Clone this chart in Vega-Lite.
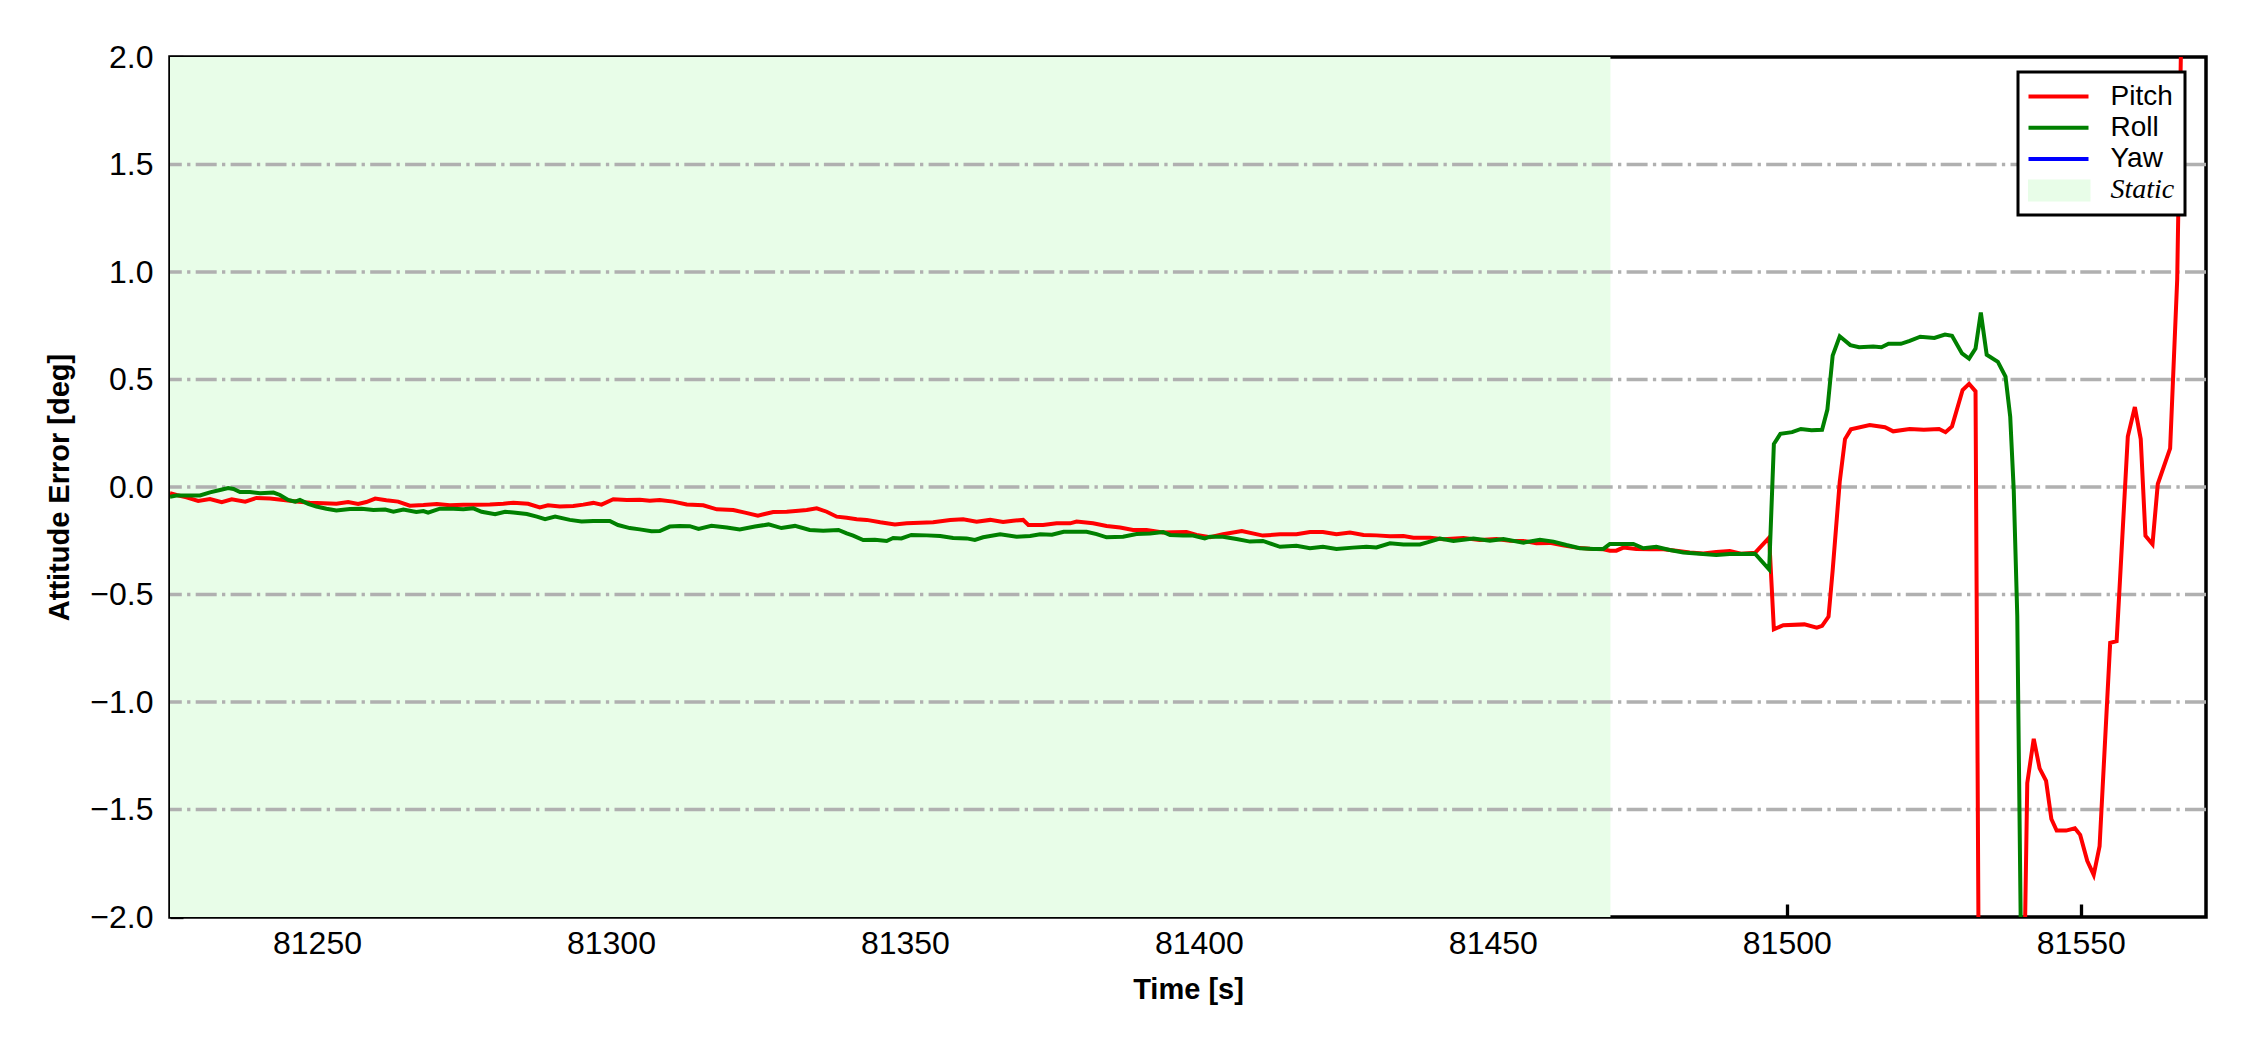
{
  "$schema": "https://vega.github.io/schema/vega-lite/v6.json",
  "width": 2036,
  "height": 860,
  "autosize": {"type": "none"},
  "padding": {"left": 170, "top": 57, "right": 44, "bottom": 133},
  "background": "white",
  "config": {
    "font": "Liberation Sans",
    "view": {"stroke": "black", "strokeWidth": 3.5},
    "axis": {
      "zindex": 1,
      "grid": false,
      "domain": false,
      "ticks": true,
      "tickColor": "black",
      "tickWidth": 3.3,
      "tickSize": -13,
      "labelFont": "Liberation Sans",
      "labelFontSize": 32,
      "labelColor": "black",
      "titleFont": "Liberation Sans",
      "titleFontSize": 29,
      "titleFontWeight": "bold",
      "titleColor": "black"
    }
  },
  "datasets": {
    "static": [{"start": 81225, "end": 81470, "s": "Static"}],
    "grid": [{"g": -1.5}, {"g": -1.0}, {"g": -0.5}, {"g": 0.0}, {"g": 0.5}, {"g": 1.0}, {"g": 1.5}],
    "lines": [
      {"s":"Pitch","t":81225,"v":-0.029},{"s":"Pitch","t":81226.1,"v":-0.037},{"s":"Pitch","t":81227.8,"v":-0.048},{"s":"Pitch","t":81229.8,"v":-0.065},{"s":"Pitch","t":81231.8,"v":-0.056},{"s":"Pitch","t":81233.8,"v":-0.071},{"s":"Pitch","t":81235.5,"v":-0.057},{"s":"Pitch","t":81237.8,"v":-0.068},{"s":"Pitch","t":81239.7,"v":-0.051},{"s":"Pitch","t":81242,"v":-0.053},{"s":"Pitch","t":81244.3,"v":-0.06},{"s":"Pitch","t":81246.5,"v":-0.067},{"s":"Pitch","t":81248.8,"v":-0.073},{"s":"Pitch","t":81251.1,"v":-0.076},{"s":"Pitch","t":81253.3,"v":-0.078},{"s":"Pitch","t":81255.3,"v":-0.07},{"s":"Pitch","t":81257,"v":-0.079},{"s":"Pitch","t":81258.4,"v":-0.07},{"s":"Pitch","t":81259.9,"v":-0.054},{"s":"Pitch","t":81261.8,"v":-0.062},{"s":"Pitch","t":81263.8,"v":-0.068},{"s":"Pitch","t":81265.8,"v":-0.087},{"s":"Pitch","t":81268.1,"v":-0.084},{"s":"Pitch","t":81270.4,"v":-0.079},{"s":"Pitch","t":81272.6,"v":-0.085},{"s":"Pitch","t":81274.9,"v":-0.082},{"s":"Pitch","t":81277.2,"v":-0.082},{"s":"Pitch","t":81279.4,"v":-0.081},{"s":"Pitch","t":81281.7,"v":-0.078},{"s":"Pitch","t":81283.4,"v":-0.073},{"s":"Pitch","t":81285.9,"v":-0.078},{"s":"Pitch","t":81287.9,"v":-0.095},{"s":"Pitch","t":81289.3,"v":-0.085},{"s":"Pitch","t":81291.3,"v":-0.091},{"s":"Pitch","t":81293.6,"v":-0.088},{"s":"Pitch","t":81295.3,"v":-0.082},{"s":"Pitch","t":81297,"v":-0.074},{"s":"Pitch","t":81298.4,"v":-0.082},{"s":"Pitch","t":81300.4,"v":-0.057},{"s":"Pitch","t":81302.7,"v":-0.06},{"s":"Pitch","t":81304.9,"v":-0.059},{"s":"Pitch","t":81306.6,"v":-0.064},{"s":"Pitch","t":81308.3,"v":-0.06},{"s":"Pitch","t":81310.6,"v":-0.068},{"s":"Pitch","t":81312.9,"v":-0.081},{"s":"Pitch","t":81315.7,"v":-0.085},{"s":"Pitch","t":81318,"v":-0.104},{"s":"Pitch","t":81320.8,"v":-0.107},{"s":"Pitch","t":81322.8,"v":-0.119},{"s":"Pitch","t":81325,"v":-0.133},{"s":"Pitch","t":81327.6,"v":-0.116},{"s":"Pitch","t":81329.9,"v":-0.115},{"s":"Pitch","t":81331.9,"v":-0.11},{"s":"Pitch","t":81333.3,"v":-0.107},{"s":"Pitch","t":81335,"v":-0.099},{"s":"Pitch","t":81336.7,"v":-0.115},{"s":"Pitch","t":81338.4,"v":-0.138},{"s":"Pitch","t":81340.1,"v":-0.143},{"s":"Pitch","t":81341.8,"v":-0.15},{"s":"Pitch","t":81343.5,"v":-0.153},{"s":"Pitch","t":81345.8,"v":-0.164},{"s":"Pitch","t":81348.3,"v":-0.174},{"s":"Pitch","t":81350.3,"v":-0.169},{"s":"Pitch","t":81352.6,"v":-0.166},{"s":"Pitch","t":81354.8,"v":-0.164},{"s":"Pitch","t":81357.7,"v":-0.153},{"s":"Pitch","t":81359.9,"v":-0.15},{"s":"Pitch","t":81362.2,"v":-0.161},{"s":"Pitch","t":81364.5,"v":-0.153},{"s":"Pitch","t":81366.7,"v":-0.163},{"s":"Pitch","t":81368.4,"v":-0.157},{"s":"Pitch","t":81370.1,"v":-0.153},{"s":"Pitch","t":81371,"v":-0.177},{"s":"Pitch","t":81373.5,"v":-0.177},{"s":"Pitch","t":81375.8,"v":-0.169},{"s":"Pitch","t":81378.1,"v":-0.169},{"s":"Pitch","t":81379.2,"v":-0.161},{"s":"Pitch","t":81382,"v":-0.169},{"s":"Pitch","t":81384.3,"v":-0.181},{"s":"Pitch","t":81386.6,"v":-0.188},{"s":"Pitch","t":81388.8,"v":-0.2},{"s":"Pitch","t":81391.1,"v":-0.2},{"s":"Pitch","t":81393.9,"v":-0.212},{"s":"Pitch","t":81395.6,"v":-0.211},{"s":"Pitch","t":81397.9,"v":-0.209},{"s":"Pitch","t":81399.6,"v":-0.223},{"s":"Pitch","t":81401.9,"v":-0.234},{"s":"Pitch","t":81404.1,"v":-0.22},{"s":"Pitch","t":81407.3,"v":-0.205},{"s":"Pitch","t":81410.9,"v":-0.226},{"s":"Pitch","t":81413.8,"v":-0.22},{"s":"Pitch","t":81416.6,"v":-0.22},{"s":"Pitch","t":81418.9,"v":-0.209},{"s":"Pitch","t":81421.1,"v":-0.209},{"s":"Pitch","t":81423.4,"v":-0.22},{"s":"Pitch","t":81425.7,"v":-0.212},{"s":"Pitch","t":81428,"v":-0.223},{"s":"Pitch","t":81430.2,"v":-0.225},{"s":"Pitch","t":81432.5,"v":-0.229},{"s":"Pitch","t":81434.8,"v":-0.228},{"s":"Pitch","t":81436.5,"v":-0.236},{"s":"Pitch","t":81439.3,"v":-0.236},{"s":"Pitch","t":81441.6,"v":-0.243},{"s":"Pitch","t":81445,"v":-0.237},{"s":"Pitch","t":81447.8,"v":-0.246},{"s":"Pitch","t":81450.6,"v":-0.242},{"s":"Pitch","t":81452.9,"v":-0.25},{"s":"Pitch","t":81455.2,"v":-0.251},{"s":"Pitch","t":81457.4,"v":-0.262},{"s":"Pitch","t":81459.7,"v":-0.26},{"s":"Pitch","t":81461.9,"v":-0.271},{"s":"Pitch","t":81464.2,"v":-0.282},{"s":"Pitch","t":81466.5,"v":-0.287},{"s":"Pitch","t":81468.8,"v":-0.29},{"s":"Pitch","t":81469.9,"v":-0.296},{"s":"Pitch","t":81471,"v":-0.296},{"s":"Pitch","t":81472.2,"v":-0.282},{"s":"Pitch","t":81474.4,"v":-0.288},{"s":"Pitch","t":81476.7,"v":-0.29},{"s":"Pitch","t":81479,"v":-0.29},{"s":"Pitch","t":81481.2,"v":-0.296},{"s":"Pitch","t":81483.5,"v":-0.305},{"s":"Pitch","t":81485.8,"v":-0.309},{"s":"Pitch","t":81488,"v":-0.302},{"s":"Pitch","t":81490.3,"v":-0.298},{"s":"Pitch","t":81492.2,"v":-0.31},{"s":"Pitch","t":81494.6,"v":-0.306},{"s":"Pitch","t":81497,"v":-0.235},{"s":"Pitch","t":81497.8,"v":-0.662},{"s":"Pitch","t":81499.4,"v":-0.643},{"s":"Pitch","t":81503,"v":-0.639},{"s":"Pitch","t":81505.1,"v":-0.654},{"s":"Pitch","t":81506,"v":-0.646},{"s":"Pitch","t":81507.1,"v":-0.603},{"s":"Pitch","t":81507.8,"v":-0.388},{"s":"Pitch","t":81509,"v":0.024},{"s":"Pitch","t":81509.9,"v":0.223},{"s":"Pitch","t":81510.9,"v":0.268},{"s":"Pitch","t":81514.1,"v":0.288},{"s":"Pitch","t":81516.7,"v":0.278},{"s":"Pitch","t":81518.1,"v":0.259},{"s":"Pitch","t":81520.9,"v":0.27},{"s":"Pitch","t":81523.3,"v":0.266},{"s":"Pitch","t":81525.9,"v":0.27},{"s":"Pitch","t":81527,"v":0.255},{"s":"Pitch","t":81528.1,"v":0.282},{"s":"Pitch","t":81529.9,"v":0.451},{"s":"Pitch","t":81531,"v":0.48},{"s":"Pitch","t":81532.1,"v":0.445},{"s":"Pitch","t":81532.65,"v":-2.3},{"s":"Pitch","t":81536,"v":-4},{"s":"Pitch","t":81540.37,"v":-2.3},{"s":"Pitch","t":81540.9,"v":-1.377},{"s":"Pitch","t":81542,"v":-1.171},{"s":"Pitch","t":81543,"v":-1.309},{"s":"Pitch","t":81544.1,"v":-1.367},{"s":"Pitch","t":81545,"v":-1.544},{"s":"Pitch","t":81545.9,"v":-1.598},{"s":"Pitch","t":81547.5,"v":-1.598},{"s":"Pitch","t":81549,"v":-1.587},{"s":"Pitch","t":81549.9,"v":-1.618},{"s":"Pitch","t":81551.1,"v":-1.739},{"s":"Pitch","t":81552.2,"v":-1.804},{"s":"Pitch","t":81553.2,"v":-1.671},{"s":"Pitch","t":81555,"v":-0.725},{"s":"Pitch","t":81556.1,"v":-0.717},{"s":"Pitch","t":81556.8,"v":-0.368},{"s":"Pitch","t":81558,"v":0.235},{"s":"Pitch","t":81559.2,"v":0.372},{"s":"Pitch","t":81560.2,"v":0.223},{"s":"Pitch","t":81561,"v":-0.227},{"s":"Pitch","t":81562.2,"v":-0.266},{"s":"Pitch","t":81563.1,"v":0.014},{"s":"Pitch","t":81565.2,"v":0.18},{"s":"Pitch","t":81566.4,"v":0.964},{"s":"Pitch","t":81567.2,"v":2.3},{"s":"Pitch","t":81571.3,"v":3.0},
      {"s":"Roll","t":81225,"v":-0.045},{"s":"Roll","t":81226.1,"v":-0.04},{"s":"Roll","t":81228.4,"v":-0.039},{"s":"Roll","t":81230.1,"v":-0.039},{"s":"Roll","t":81231.8,"v":-0.025},{"s":"Roll","t":81233.5,"v":-0.014},{"s":"Roll","t":81234.9,"v":-0.005},{"s":"Roll","t":81235.8,"v":-0.009},{"s":"Roll","t":81236.9,"v":-0.023},{"s":"Roll","t":81238.6,"v":-0.023},{"s":"Roll","t":81240.3,"v":-0.029},{"s":"Roll","t":81242.6,"v":-0.026},{"s":"Roll","t":81243.7,"v":-0.037},{"s":"Roll","t":81245.1,"v":-0.06},{"s":"Roll","t":81246.3,"v":-0.068},{"s":"Roll","t":81247.1,"v":-0.06},{"s":"Roll","t":81248.5,"v":-0.078},{"s":"Roll","t":81249.9,"v":-0.091},{"s":"Roll","t":81251.6,"v":-0.101},{"s":"Roll","t":81253.3,"v":-0.109},{"s":"Roll","t":81255.6,"v":-0.102},{"s":"Roll","t":81257.6,"v":-0.101},{"s":"Roll","t":81259.6,"v":-0.107},{"s":"Roll","t":81261.6,"v":-0.105},{"s":"Roll","t":81263,"v":-0.115},{"s":"Roll","t":81264.7,"v":-0.105},{"s":"Roll","t":81266.9,"v":-0.116},{"s":"Roll","t":81268.1,"v":-0.112},{"s":"Roll","t":81268.9,"v":-0.119},{"s":"Roll","t":81270.9,"v":-0.101},{"s":"Roll","t":81273.2,"v":-0.101},{"s":"Roll","t":81274.9,"v":-0.104},{"s":"Roll","t":81276.6,"v":-0.099},{"s":"Roll","t":81278,"v":-0.115},{"s":"Roll","t":81280.3,"v":-0.127},{"s":"Roll","t":81282,"v":-0.115},{"s":"Roll","t":81283.4,"v":-0.119},{"s":"Roll","t":81285.7,"v":-0.126},{"s":"Roll","t":81287.4,"v":-0.138},{"s":"Roll","t":81288.8,"v":-0.15},{"s":"Roll","t":81290.5,"v":-0.138},{"s":"Roll","t":81293,"v":-0.153},{"s":"Roll","t":81295,"v":-0.16},{"s":"Roll","t":81297,"v":-0.158},{"s":"Roll","t":81299.8,"v":-0.158},{"s":"Roll","t":81301.2,"v":-0.177},{"s":"Roll","t":81303.2,"v":-0.191},{"s":"Roll","t":81304.9,"v":-0.197},{"s":"Roll","t":81306.9,"v":-0.206},{"s":"Roll","t":81308.3,"v":-0.205},{"s":"Roll","t":81310,"v":-0.184},{"s":"Roll","t":81311.7,"v":-0.181},{"s":"Roll","t":81313.4,"v":-0.182},{"s":"Roll","t":81314.9,"v":-0.195},{"s":"Roll","t":81317.1,"v":-0.18},{"s":"Roll","t":81319.7,"v":-0.188},{"s":"Roll","t":81321.9,"v":-0.197},{"s":"Roll","t":81324.5,"v":-0.184},{"s":"Roll","t":81326.8,"v":-0.174},{"s":"Roll","t":81329,"v":-0.191},{"s":"Roll","t":81331.3,"v":-0.181},{"s":"Roll","t":81333.8,"v":-0.2},{"s":"Roll","t":81336.1,"v":-0.203},{"s":"Roll","t":81338.7,"v":-0.2},{"s":"Roll","t":81340.1,"v":-0.216},{"s":"Roll","t":81341.2,"v":-0.226},{"s":"Roll","t":81342.9,"v":-0.247},{"s":"Roll","t":81344.9,"v":-0.245},{"s":"Roll","t":81346.9,"v":-0.251},{"s":"Roll","t":81348,"v":-0.237},{"s":"Roll","t":81349.4,"v":-0.239},{"s":"Roll","t":81351.1,"v":-0.223},{"s":"Roll","t":81353.7,"v":-0.225},{"s":"Roll","t":81356,"v":-0.228},{"s":"Roll","t":81358.2,"v":-0.237},{"s":"Roll","t":81360.5,"v":-0.239},{"s":"Roll","t":81361.9,"v":-0.246},{"s":"Roll","t":81363.3,"v":-0.234},{"s":"Roll","t":81366.2,"v":-0.22},{"s":"Roll","t":81369,"v":-0.231},{"s":"Roll","t":81371.3,"v":-0.228},{"s":"Roll","t":81373,"v":-0.22},{"s":"Roll","t":81375,"v":-0.222},{"s":"Roll","t":81377,"v":-0.208},{"s":"Roll","t":81378.6,"v":-0.208},{"s":"Roll","t":81380.9,"v":-0.208},{"s":"Roll","t":81382.6,"v":-0.219},{"s":"Roll","t":81384.3,"v":-0.234},{"s":"Roll","t":81387.1,"v":-0.231},{"s":"Roll","t":81389.4,"v":-0.219},{"s":"Roll","t":81391.7,"v":-0.216},{"s":"Roll","t":81393.9,"v":-0.209},{"s":"Roll","t":81395.1,"v":-0.223},{"s":"Roll","t":81397.3,"v":-0.226},{"s":"Roll","t":81399,"v":-0.226},{"s":"Roll","t":81401,"v":-0.239},{"s":"Roll","t":81401.9,"v":-0.231},{"s":"Roll","t":81404.1,"v":-0.231},{"s":"Roll","t":81406.4,"v":-0.242},{"s":"Roll","t":81408.7,"v":-0.254},{"s":"Roll","t":81410.9,"v":-0.251},{"s":"Roll","t":81413.8,"v":-0.278},{"s":"Roll","t":81416.6,"v":-0.273},{"s":"Roll","t":81418.9,"v":-0.285},{"s":"Roll","t":81421.1,"v":-0.278},{"s":"Roll","t":81423.4,"v":-0.288},{"s":"Roll","t":81426.2,"v":-0.282},{"s":"Roll","t":81428.5,"v":-0.278},{"s":"Roll","t":81430.2,"v":-0.281},{"s":"Roll","t":81432.5,"v":-0.262},{"s":"Roll","t":81434.8,"v":-0.267},{"s":"Roll","t":81437.6,"v":-0.267},{"s":"Roll","t":81439.3,"v":-0.254},{"s":"Roll","t":81441,"v":-0.24},{"s":"Roll","t":81443.3,"v":-0.251},{"s":"Roll","t":81446.7,"v":-0.24},{"s":"Roll","t":81449.5,"v":-0.25},{"s":"Roll","t":81451.8,"v":-0.242},{"s":"Roll","t":81455.2,"v":-0.259},{"s":"Roll","t":81458,"v":-0.245},{"s":"Roll","t":81460.3,"v":-0.254},{"s":"Roll","t":81462.5,"v":-0.27},{"s":"Roll","t":81464.8,"v":-0.285},{"s":"Roll","t":81467.1,"v":-0.288},{"s":"Roll","t":81468.8,"v":-0.288},{"s":"Roll","t":81469.9,"v":-0.265},{"s":"Roll","t":81472.2,"v":-0.265},{"s":"Roll","t":81473.9,"v":-0.265},{"s":"Roll","t":81475.6,"v":-0.285},{"s":"Roll","t":81477.8,"v":-0.278},{"s":"Roll","t":81480.1,"v":-0.293},{"s":"Roll","t":81482.4,"v":-0.305},{"s":"Roll","t":81484.6,"v":-0.309},{"s":"Roll","t":81488,"v":-0.316},{"s":"Roll","t":81490.3,"v":-0.312},{"s":"Roll","t":81494.6,"v":-0.31},{"s":"Roll","t":81497,"v":-0.384},{"s":"Roll","t":81497.8,"v":0.2},{"s":"Roll","t":81498.9,"v":0.247},{"s":"Roll","t":81500.9,"v":0.255},{"s":"Roll","t":81502.4,"v":0.27},{"s":"Roll","t":81504.2,"v":0.264},{"s":"Roll","t":81506,"v":0.266},{"s":"Roll","t":81506.9,"v":0.36},{"s":"Roll","t":81507.8,"v":0.611},{"s":"Roll","t":81509,"v":0.701},{"s":"Roll","t":81510.8,"v":0.66},{"s":"Roll","t":81512.3,"v":0.65},{"s":"Roll","t":81514.7,"v":0.654},{"s":"Roll","t":81516.1,"v":0.65},{"s":"Roll","t":81517.3,"v":0.666},{"s":"Roll","t":81519.4,"v":0.666},{"s":"Roll","t":81520.9,"v":0.68},{"s":"Roll","t":81522.7,"v":0.699},{"s":"Roll","t":81525.1,"v":0.693},{"s":"Roll","t":81526.9,"v":0.709},{"s":"Roll","t":81528.1,"v":0.703},{"s":"Roll","t":81529.8,"v":0.621},{"s":"Roll","t":81531,"v":0.597},{"s":"Roll","t":81532.1,"v":0.644},{"s":"Roll","t":81533,"v":0.811},{"s":"Roll","t":81534,"v":0.615},{"s":"Roll","t":81535.9,"v":0.582},{"s":"Roll","t":81537.2,"v":0.513},{"s":"Roll","t":81538,"v":0.327},{"s":"Roll","t":81538.6,"v":-0.016},{"s":"Roll","t":81539.2,"v":-0.6},{"s":"Roll","t":81539.9,"v":-2.3},{"s":"Roll","t":81545,"v":-4},{"s":"Roll","t":81571.3,"v":-4}
    ]
  },
  "encoding": {
    "x": {
      "type": "quantitative",
      "scale": {"domain": [81225, 81571.3], "nice": false, "zero": false},
      "axis": {
        "title": "Time [s]",
        "values": [81250, 81300, 81350, 81400, 81450, 81500, 81550],
        "format": "d",
        "labelPadding": 24,
        "titlePadding": 16
      }
    }
  },
  "layer": [
    {
      "data": {"name": "static"},
      "mark": {"type": "rect"},
      "encoding": {
        "x": {"field": "start", "type": "quantitative"},
        "x2": {"field": "end"},
        "color": {"field": "s", "type": "nominal"}
      }
    },
    {
      "data": {"name": "grid"},
      "mark": {"type": "rule", "color": "#b0b0b0", "strokeWidth": 3.3, "strokeDash": [21, 5.3, 3.3, 5.3]},
      "encoding": {
        "y": {"field": "g", "type": "quantitative"}
      }
    },
    {
      "data": {"name": "lines"},
      "mark": {"type": "line", "strokeWidth": 4, "clip": true},
      "encoding": {
        "x": {"field": "t", "type": "quantitative"},
        "y": {
          "field": "v",
          "type": "quantitative",
          "scale": {"domain": [-2, 2], "nice": false, "zero": false},
          "axis": {
            "title": "Attitude Error [deg]",
            "values": [-2, -1.5, -1, -0.5, 0, 0.5, 1, 1.5, 2],
            "format": ".1f",
            "labelPadding": 30,
            "titlePadding": 15
          }
        },
        "color": {
          "field": "s",
          "type": "nominal",
          "scale": {
            "domain": ["Pitch", "Roll", "Yaw", "Static"],
            "range": ["#ff0000", "#008000", "#0000ff", "#e8fde8"]
          },
          "legend": {
            "title": null,
            "orient": "none",
            "legendX": 1848,
            "legendY": 15,
            "padding": 10,
            "fillColor": "white",
            "strokeColor": "black",
            "cornerRadius": 0,
            "symbolSize": 3600,
            "symbolStrokeWidth": 4,
            "symbolOffset": -1.5,
            "labelOffset": 20,
            "labelFont": "Liberation Sans",
            "labelFontSize": 28,
            "labelColor": "black",
            "clipHeight": 29,
            "rowPadding": 2.3,
            "encode": {
              "legend": {"update": {"strokeWidth": {"value": 3}}},
              "symbols": {
                "update": {
                  "shape": {"signal": "datum.value === 'Static' ? 'M-1,-0.3H1V0.3H-1Z' : 'M-1,0H1'"},
                  "fill": {"signal": "datum.value === 'Static' ? '#e8fde8' : 'transparent'"},
                  "stroke": {"signal": "datum.value === 'Pitch' ? '#ff0000' : datum.value === 'Roll' ? '#008000' : datum.value === 'Yaw' ? '#0000ff' : 'transparent'"},
                  "strokeWidth": {"value": 4},
                  "opacity": {"value": 1}
                }
              },
              "labels": {
                "update": {
                  "font": {"signal": "datum.value === 'Static' ? 'Liberation Serif' : 'Liberation Sans'"},
                  "fontStyle": {"signal": "datum.value === 'Static' ? 'italic' : 'normal'"}
                }
              }
            }
          }
        }
      }
    }
  ]
}
